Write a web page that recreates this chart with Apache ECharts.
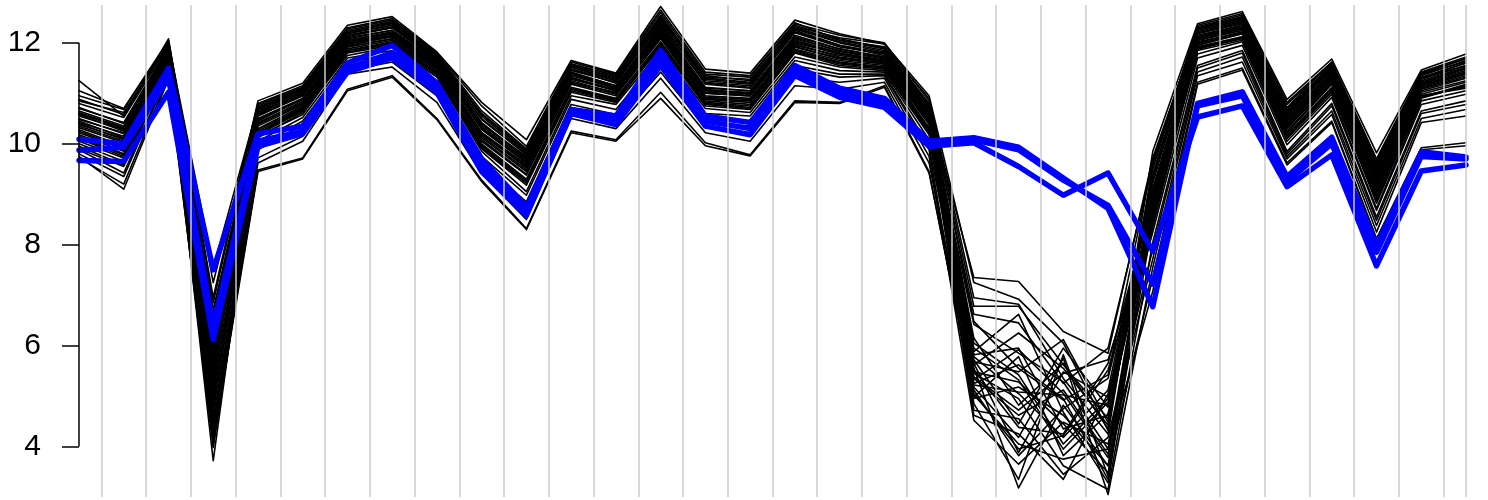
<!DOCTYPE html>
<html><head><meta charset="utf-8">
<script src="https://cdn.jsdelivr.net/npm/echarts@6/dist/echarts.min.js"></script>
<style>html,body{margin:0;padding:0;background:#fff}#c{width:1488px;height:500px}</style>
</head><body><div id="c"></div>
<script>
const samples = [1,2,3,4,5,6,7,8,9,10,11,12,13,14,15,16,17,18,19,20,21,22,23,24,25,26,27,28,29,30,31,32];
const yTicks = [4, 6, 8, 10, 12];
const dividers = [1.5,2.5,3.5,4.5,5.5,6.5,7.5,8.5,9.5,10.5,11.5,12.5,13.5,14.5,15.5,16.5,17.5,18.5,19.5,20.5,21.5,22.5,23.5,24.5,25.5,26.5,27.5,28.5,29.5,30.5,31.5,32];

const blackLines = [
[10.42,10.15,11.82,5.62,10.55,10.98,12.05,12.22,11.60,10.28,9.62,11.40,11.12,12.30,11.05,11.02,12.10,11.83,11.68,10.55,5.35,4.62,5.12,3.85,8.95,12.12,12.32,10.48,11.38,9.28,11.20,11.45],
[10.05,9.72,11.55,4.35,10.12,10.62,11.75,11.92,11.32,9.85,9.05,10.95,10.78,11.85,10.70,10.62,11.72,11.52,11.45,10.18,5.82,5.95,4.35,4.62,8.62,11.78,12.02,10.05,10.98,8.72,10.85,11.05],
[11.25,10.55,12.08,6.85,10.80,11.15,12.30,12.48,11.80,10.75,9.95,11.62,11.38,12.65,11.42,11.35,12.40,12.05,11.92,10.90,6.95,6.82,5.35,4.25,9.58,12.35,12.58,10.82,11.62,9.70,11.42,11.72],
[10.62,10.32,11.92,5.05,10.62,11.02,12.15,12.32,11.68,10.42,9.72,11.48,11.20,12.42,11.18,11.10,12.22,11.95,11.75,10.62,5.12,3.82,4.75,5.35,9.05,12.20,12.40,10.55,11.48,9.42,11.28,11.55],
[10.28,9.95,11.68,4.02,10.28,10.72,11.92,12.08,11.48,10.05,9.38,11.18,10.95,12.08,10.88,10.82,11.92,11.68,11.58,10.38,4.85,3.35,5.82,3.42,8.45,11.95,12.18,10.22,11.18,8.95,10.98,11.22],
[10.85,10.62,11.98,6.15,10.72,11.08,12.22,12.40,11.75,10.55,9.82,11.55,11.30,12.55,11.32,11.28,12.32,12.10,11.98,10.78,6.05,5.42,4.05,4.95,9.35,12.28,12.50,10.70,11.55,9.58,11.38,11.62],
[9.95,9.58,11.45,4.55,9.95,10.45,11.62,11.78,11.15,9.62,8.85,10.78,10.58,11.62,10.48,10.42,11.55,11.38,11.38,9.95,5.45,4.95,3.62,3.15,8.05,11.55,11.85,9.85,10.80,8.55,10.65,10.85],
[10.48,10.22,11.78,5.85,10.48,10.88,12.02,12.18,11.55,10.18,9.55,11.32,11.05,12.18,11.00,10.95,12.02,11.78,11.62,10.48,5.62,6.25,5.55,4.42,9.12,12.05,12.28,10.38,11.32,9.15,11.12,11.38],
[10.18,9.85,11.62,3.72,10.20,10.68,11.85,12.00,11.40,9.95,9.25,11.08,10.85,11.98,10.80,10.72,11.85,11.60,11.52,10.28,4.62,4.25,3.35,5.05,8.35,11.88,12.10,10.15,11.08,8.82,10.90,11.15],
[10.72,10.40,11.88,6.55,10.65,11.05,12.18,12.35,11.70,10.48,9.78,11.52,11.25,12.48,11.25,11.18,12.28,12.00,11.82,10.68,7.35,7.27,6.28,5.85,9.72,12.25,12.45,10.62,11.52,9.52,11.30,11.60],
[9.72,9.20,11.32,4.20,9.48,9.72,11.08,11.35,10.50,9.28,8.32,10.25,10.08,11.02,10.02,9.78,10.85,10.82,11.15,9.45,4.95,5.18,4.62,3.62,7.35,11.22,11.50,9.62,10.45,8.12,9.92,10.02],
[10.55,10.28,11.85,5.42,10.58,10.95,12.10,12.25,11.62,10.35,9.68,11.42,11.15,12.35,11.12,11.05,12.15,11.88,11.72,10.58,5.25,5.62,4.95,3.35,8.82,12.15,12.35,10.52,11.42,9.35,11.22,11.48],
[10.32,10.02,11.72,4.85,10.35,10.78,11.95,12.12,11.50,10.12,9.45,11.25,11.00,12.12,10.92,10.88,11.98,11.72,11.60,10.42,5.72,4.45,5.95,4.78,8.72,12.00,12.22,10.30,11.25,9.05,11.05,11.30],
[10.95,10.68,12.02,7.25,10.78,11.12,12.28,12.45,11.78,10.65,9.90,11.58,11.35,12.60,11.38,11.32,12.38,12.15,12.00,10.85,6.78,6.78,5.62,4.55,9.50,12.32,12.55,10.78,11.60,9.65,11.40,11.68],
[10.12,9.78,11.58,5.25,10.15,10.58,11.80,11.95,11.35,9.90,9.18,11.02,10.82,11.92,10.75,10.68,11.80,11.55,11.48,10.22,5.05,3.95,4.22,5.52,8.55,11.85,12.05,10.10,11.02,8.90,10.95,11.10],
[10.38,10.10,11.75,6.35,10.42,10.82,11.98,12.15,11.52,10.22,9.58,11.30,11.08,12.22,11.02,10.98,12.05,11.80,11.65,10.50,6.42,5.85,5.28,3.95,9.02,12.08,12.30,10.42,11.30,9.22,11.15,11.40],
[9.88,9.42,11.40,3.98,9.72,10.15,11.45,11.62,10.95,9.45,8.62,10.62,10.42,11.42,10.32,10.22,11.32,11.22,11.30,9.75,4.52,3.65,4.48,4.05,7.72,11.42,11.72,9.75,10.65,8.38,10.50,10.68],
[10.65,10.35,11.90,5.72,10.60,11.00,12.12,12.30,11.65,10.40,9.70,11.45,11.22,12.38,11.20,11.12,12.20,11.92,11.78,10.65,5.95,5.32,3.95,4.88,9.22,12.18,12.38,10.58,11.45,9.45,11.25,11.52],
[10.22,9.90,11.65,4.68,10.25,10.70,11.88,12.05,11.42,10.00,9.30,11.12,10.90,12.02,10.85,10.78,11.88,11.65,11.55,10.32,5.38,4.72,5.45,5.72,8.48,11.92,12.12,10.18,11.12,8.85,10.92,11.18],
[11.05,10.70,12.05,6.95,10.85,11.20,12.35,12.52,11.82,10.82,10.08,11.65,11.40,12.72,11.48,11.40,12.45,12.18,11.98,10.95,7.25,6.92,6.05,4.32,9.85,12.38,12.62,10.88,11.68,9.82,11.46,11.78],
[10.50,10.20,11.80,5.35,10.50,10.90,12.05,12.20,11.58,10.30,9.62,11.38,11.10,12.28,11.08,11.00,12.08,11.85,11.70,10.52,5.55,3.18,4.82,3.62,8.92,12.10,12.30,10.45,11.35,9.30,11.18,11.42],
[9.80,9.35,11.38,4.45,9.62,10.05,11.38,11.52,10.82,9.40,8.50,10.50,10.30,11.30,10.22,10.05,11.15,11.08,11.22,9.62,5.18,4.18,5.75,3.05,7.55,11.35,11.62,9.70,10.58,8.25,10.42,10.55],
[10.60,10.30,11.88,6.05,10.62,11.00,12.15,12.30,11.65,10.38,9.75,11.48,11.25,12.40,11.22,11.15,12.25,11.95,11.80,10.68,5.78,5.05,4.18,5.12,9.30,12.22,12.42,10.60,11.50,9.48,11.30,11.55],
[10.15,9.80,11.60,5.15,10.18,10.65,11.82,11.98,11.38,9.92,9.22,11.05,10.85,11.95,10.78,10.70,11.82,11.58,11.50,10.25,4.98,5.78,3.82,4.65,8.50,11.88,12.08,10.12,11.05,8.88,10.95,11.12],
[10.80,10.52,11.95,6.68,10.70,11.08,12.22,12.38,11.72,10.58,9.85,11.55,11.32,12.50,11.30,11.22,12.30,12.05,11.88,10.75,6.62,6.45,5.25,5.95,9.62,12.28,12.48,10.68,11.58,9.62,11.35,11.65],
[9.90,9.55,11.48,4.25,9.88,10.38,11.55,11.72,11.08,9.55,8.78,10.72,10.52,11.55,10.42,10.35,11.48,11.32,11.35,9.88,4.72,4.55,3.45,4.18,7.92,11.50,11.80,9.80,10.75,8.48,10.60,10.78],
[10.45,10.12,11.78,5.55,10.45,10.88,12.02,12.18,11.55,10.22,9.58,11.35,11.10,12.25,11.05,10.98,12.05,11.80,11.65,10.50,5.32,5.92,5.05,3.78,9.00,12.05,12.25,10.40,11.32,9.25,11.15,11.42],
[10.25,9.92,11.68,4.92,10.30,10.75,11.92,12.08,11.45,10.08,9.40,11.20,10.98,12.10,10.90,10.85,11.92,11.70,11.58,10.40,5.48,5.28,4.45,3.48,8.68,11.98,12.18,10.25,11.20,9.00,11.02,11.25],
[10.70,10.42,11.92,6.42,10.68,11.05,12.20,12.35,11.70,10.50,9.80,11.52,11.28,12.45,11.28,11.20,12.28,12.02,11.85,10.72,6.15,4.82,5.65,4.35,9.40,12.25,12.45,10.65,11.55,9.55,11.32,11.60],
[10.00,9.65,11.50,4.75,10.05,10.52,11.70,11.85,11.22,9.75,8.98,10.88,10.68,11.75,10.60,10.55,11.65,11.45,11.42,10.08,5.65,3.88,5.48,4.98,8.25,11.70,11.95,9.98,10.92,8.68,10.78,10.98],
[10.35,10.05,11.72,5.95,10.38,10.80,11.98,12.12,11.50,10.15,9.48,11.22,11.02,12.15,10.95,10.90,11.95,11.75,11.62,10.45,5.88,6.62,4.68,3.28,8.78,12.02,12.20,10.32,11.22,9.10,11.08,11.32],
[10.88,10.58,12.00,7.55,10.75,11.10,12.25,12.42,11.75,10.60,9.88,11.58,11.35,12.52,11.35,11.25,12.35,12.08,11.90,10.80,6.48,5.55,4.92,5.42,9.65,12.30,12.52,10.72,11.62,9.68,11.38,11.70],
[9.75,9.10,11.28,4.10,9.45,9.70,11.05,11.32,10.48,9.25,8.30,10.22,10.05,10.90,9.96,9.76,10.82,10.80,11.12,9.42,5.02,4.05,3.75,3.95,7.08,11.18,11.46,9.58,10.42,8.10,9.88,9.96],
[10.58,10.25,11.85,5.78,10.55,10.95,12.08,12.25,11.60,10.32,9.65,11.40,11.15,12.32,11.10,11.05,12.12,11.88,11.72,10.58,5.68,5.48,6.12,4.48,8.98,12.12,12.35,10.50,11.40,9.38,11.22,11.50],
[10.40,10.08,11.75,5.48,10.40,10.85,12.00,12.15,11.52,10.20,9.52,11.28,11.05,12.20,11.00,10.95,12.00,11.78,11.65,10.48,5.52,4.38,4.25,5.65,8.88,12.05,12.25,10.35,11.28,9.18,11.10,11.35],
[10.10,9.75,11.62,6.72,10.22,10.68,11.85,12.02,11.40,9.98,9.28,11.10,10.88,12.00,10.82,10.75,11.85,11.62,11.52,10.30,5.22,5.08,5.02,4.82,8.58,11.90,12.12,10.15,11.10,8.92,10.92,11.15]
];

const blueLines = [
[10.09,10.00,11.50,7.50,10.20,10.35,11.60,11.95,11.20,9.70,8.75,10.68,10.55,11.85,10.55,10.42,11.55,11.10,10.90,10.05,10.12,9.93,9.32,8.72,6.77,10.80,11.03,9.35,10.13,7.99,9.84,9.74],
[9.87,9.93,11.30,6.40,10.05,10.25,11.50,11.80,11.10,9.55,8.65,10.65,10.45,11.70,10.45,10.30,11.45,11.00,10.80,10.00,10.08,9.88,9.28,8.78,7.22,10.75,10.95,9.25,10.00,7.85,9.75,9.70],
[9.67,9.65,11.02,6.12,9.95,10.20,11.42,11.70,11.02,9.45,8.58,10.60,10.38,11.55,10.35,10.18,11.35,10.92,10.72,9.95,10.02,9.55,8.98,9.42,7.87,10.53,10.75,9.15,9.78,7.58,9.46,9.58]
];

const chart = echarts.init(document.getElementById('c'), null, {renderer: 'canvas'});
const series = [];
series.push({
  type: 'line', data: [], silent: true, z: 1,
  markLine: {
    symbol: 'none', silent: true, animation: false,
    label: {show: false},
    lineStyle: {color: '#cccccc', width: 1.5, type: 'solid'},
    data: dividers.map(x => ({xAxis: x}))
  }
});
blackLines.forEach(vals => series.push({
  type: 'line', data: vals.map((v, i) => [samples[i], v]),
  symbol: 'none', silent: true, z: 2,
  lineStyle: {color: '#000000', width: 1.6, join: 'round', cap: 'round'}
}));
blueLines.forEach(vals => series.push({
  type: 'line', data: vals.map((v, i) => [samples[i], v]),
  symbol: 'none', silent: true, z: 3,
  lineStyle: {color: '#0000ff', width: 5.5, join: 'round', cap: 'round'}
}));
series.push({
  type: 'line', data: [], silent: true, z: 4,
  markLine: {
    symbol: 'none', silent: true, animation: false,
    label: {show: false},
    lineStyle: {color: '#000000', width: 1.5, type: 'solid'},
    data: [[{coord: [samples[0], yTicks[0]]}, {coord: [samples[0], yTicks[yTicks.length - 1]]}]]
  }
});

chart.setOption({
  animation: false,
  backgroundColor: '#ffffff',
  grid: {left: 79, right: 22, top: 5, bottom: 3, containLabel: false},
  xAxis: {type: 'value', min: samples[0], max: samples[samples.length - 1], show: false},
  yAxis: {
    type: 'value', min: 3.0, max: 12.75,
    splitLine: {show: false},
    axisLine: {show: false},
    axisTick: {show: true, customValues: yTicks, length: 17, lineStyle: {color: '#000', width: 1.5}},
    axisLabel: {customValues: yTicks, fontSize: 30, color: '#000', margin: 38, fontFamily: 'Liberation Sans, Arial, sans-serif'}
  },
  series: series
});
</script>
</body></html>
